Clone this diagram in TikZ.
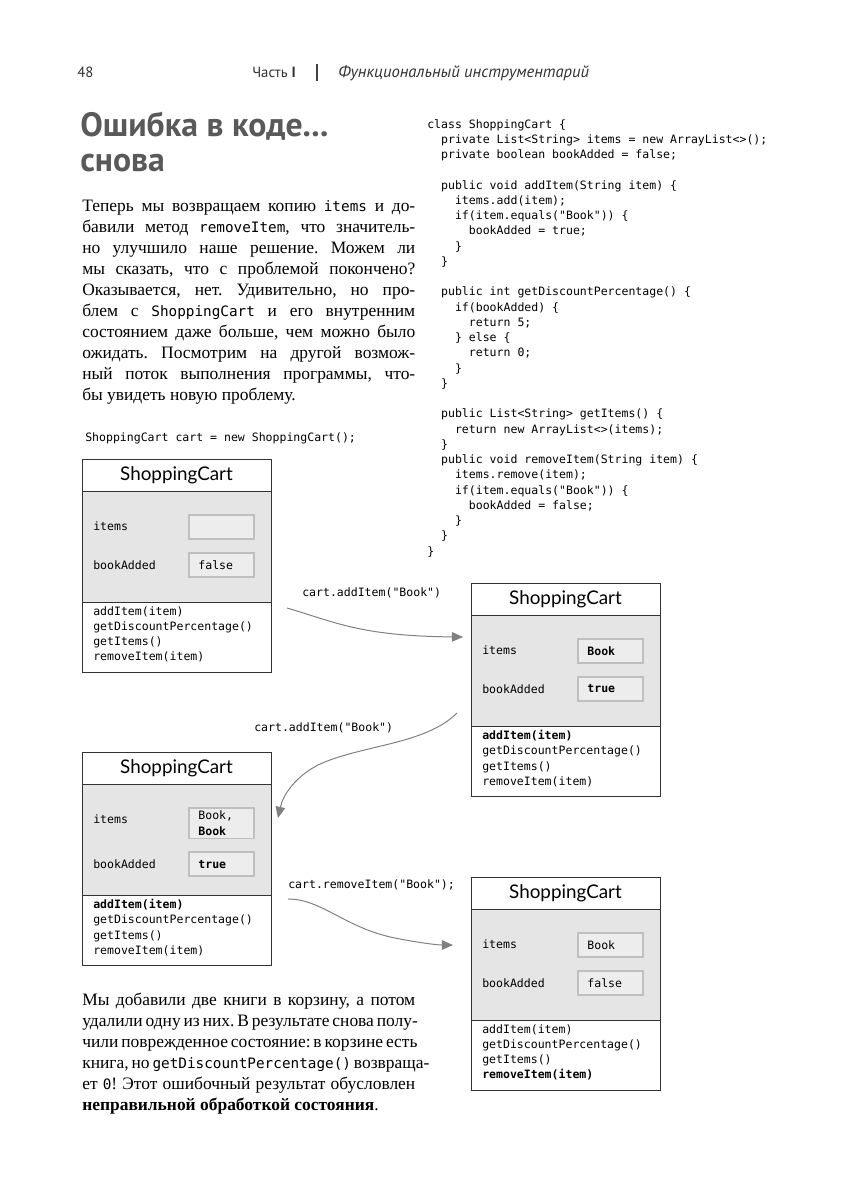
\documentclass[tikz,border=0pt]{standalone}
\usepackage{fontspec}
\setmainfont{Liberation Serif}
\newfontfamily\headfont{PT Sans}
\newfontfamily\codefont{DejaVu Sans Mono}
\newfontfamily\cartfont{Lato}
\usetikzlibrary{arrows.meta,positioning,calc}

\newcommand\codetext{\codefont\fontsize{8.2}{10.85}\selectfont}
\newcommand\cd[1]{{\codefont\fontsize{10.2}{14.95}\selectfont #1}}
\newcommand\ind[1]{\hspace*{#1\fontcharwd\font`\x}}
\newcommand\fullline[1]{\makebox[83.25mm][s]{#1}}
\frenchspacing

% one state of the ShoppingCart object: name, x, y, items, bookAdded, methods
\newcommand\cartstate[6]{%
  \node[cartframe] (#1) at (#2,#3) {};
  \fill[statefill] ([yshift=-8mm]#1.north west) rectangle ([yshift=17.5mm]#1.south east);
  \draw[cartline] ([yshift=-8mm]#1.north west) -- ([yshift=-8mm]#1.north east)
    ([yshift=17.5mm]#1.south west) -- ([yshift=17.5mm]#1.south east);
  \draw[cartline] (#1.north west) rectangle (#1.south east);
  \node[carttitle] (#1-title) at ([yshift=-4mm]#1.north) {ShoppingCart};
  \node[valbox] (#1-items) at ([xshift=26.5mm,yshift=-13.75mm]#1.north west) {#4};
  \node[valbox,below=3mm of #1-items] (#1-flag) {#5};
  \node[fieldlbl] (#1-itemslbl) at ($(#1.west |- #1-items.north)+(2.75mm,-3mm)$) {items};
  \node[fieldlbl] (#1-flaglbl) at ($(#1.west |- #1-flag.center)+(2.75mm,0)$) {bookAdded};
  \node[methodlist] (#1-methods) at ($(#1.south west)+(2.75mm,16.5mm)$) {#6};
}

\begin{document}
\begin{tikzpicture}[x=0.25mm,y=-0.25mm,
  headtext/.style={anchor=base west,inner sep=0pt,text=black!80,
    font=\headfont\fontsize{10.5}{12}\selectfont},
  heading/.style={anchor=north west,inner sep=0pt,align=left,text=black!65,
    font=\headfont\bfseries\fontsize{24}{24.9}\selectfont},
  bodytext/.style={anchor=north west,inner sep=0pt,align=left,
    font=\fontsize{12.4}{14.95}\selectfont},
  codeblock/.style={anchor=north west,inner sep=0pt,align=left,font=\codetext},
  callnote/.style={anchor=west,inner sep=0pt,font=\codetext},
  cartframe/.style={anchor=north west,minimum width=47.25mm,minimum height=53.25mm,
    inner sep=0pt,outer sep=0pt},
  cartline/.style={draw=black!80,line width=0.7pt},
  statefill/.style={fill=black!10},
  carttitle/.style={inner sep=0pt,font=\cartfont\fontsize{13.4}{15}\selectfont},
  valbox/.style={anchor=north west,draw=black!25,line width=1.3pt,fill=black!7,
    minimum width=16.25mm,minimum height=6mm,text width=11.5mm,align=left,
    inner xsep=2.375mm,inner ysep=0.8mm,font=\codetext},
  fieldlbl/.style={anchor=west,inner sep=0pt,font=\codetext},
  methodlist/.style={anchor=north west,inner sep=0pt,align=left,font=\codetext},
  flow/.style={draw=black!50,line width=0.7pt,-{Triangle[length=2.8mm,width=2.4mm]}}]
\useasboundingbox[fill=white] (0,0) rectangle (849,1200);

% running head
\node[headtext] (pageno) at (77,77) {48};
\node[headtext] (part) at (252,77) {Часть \textbf{I}};
\draw[black!75,line width=1.6pt] (317,64) -- (317,81);
\node[headtext,font=\headfont\itshape\fontsize{11.8}{12}\selectfont] (chapter) at (338,77)
  {Функциональный инструментарий};

% heading and text
\node[heading] (title) at (80,112) {Ошибка в коде...\\снова};
\node[bodytext] (intro) at (82,200) {%
  \fullline{Теперь мы возвращаем копию \cd{items} и до-}\\
  \fullline{бавили метод \cd{removeItem}, что значитель-}\\
  \fullline{но улучшило наше решение. Можем ли}\\
  \fullline{мы сказать, что с проблемой покончено?}\\
  \fullline{Оказывается, нет. Удивительно, но про-}\\
  \fullline{блем с \cd{ShoppingCart} и его внутренним}\\
  \fullline{состоянием даже больше, чем можно было}\\
  \fullline{ожидать. Посмотрим на другой возмож-}\\
  \fullline{ный поток выполнения программы, что-}\\
  бы увидеть новую проблему.};

% source of the class
\node[codeblock] (source) at (427,119) {%
  class ShoppingCart \{\\
  \ind{2}private List<String> items = new ArrayList<>();\\
  \ind{2}private boolean bookAdded = false;\\
  \mbox{}\\
  \ind{2}public void addItem(String item) \{\\
  \ind{4}items.add(item);\\
  \ind{4}if(item.equals("Book")) \{\\
  \ind{6}bookAdded = true;\\
  \ind{4}\}\\
  \ind{2}\}\\
  \mbox{}\\
  \ind{2}public int getDiscountPercentage() \{\\
  \ind{4}if(bookAdded) \{\\
  \ind{6}return 5;\\
  \ind{4}\} else \{\\
  \ind{6}return 0;\\
  \ind{4}\}\\
  \ind{2}\}\\
  \mbox{}\\
  \ind{2}public List<String> getItems() \{\\
  \ind{4}return new ArrayList<>(items);\\
  \ind{2}\}\\
  \ind{2}public void removeItem(String item) \{\\
  \ind{4}items.remove(item);\\
  \ind{4}if(item.equals("Book")) \{\\
  \ind{6}bookAdded = false;\\
  \ind{4}\}\\
  \ind{2}\}\\
  \}};

% the four states
\node[callnote] (init) at (85,438) {ShoppingCart cart = new ShoppingCart();};
\cartstate{cartA}{82}{459}{}{false}
  {addItem(item)\\getDiscountPercentage()\\getItems()\\removeItem(item)}
\cartstate{cartB}{471}{583}{\textbf{Book}}{\textbf{true}}
  {\textbf{addItem(item)}\\getDiscountPercentage()\\getItems()\\removeItem(item)}
\cartstate{cartC}{82}{752}{Book,\\\textbf{Book}}{\textbf{true}}
  {\textbf{addItem(item)}\\getDiscountPercentage()\\getItems()\\removeItem(item)}
\cartstate{cartD}{471}{877}{Book}{false}
  {addItem(item)\\getDiscountPercentage()\\getItems()\\\textbf{removeItem(item)}}

% calls between states
\node[callnote] (call1) at (302,593) {cart.addItem("Book")};
\coordinate (from1) at (287,608);
\coordinate (to1) at (463,637);
\draw[flow] (from1) .. controls (335,622) and (360,636) .. (to1);
\node[callnote] (call2) at (254,728) {cart.addItem("Book")};
\coordinate (from2) at (457,713);
\coordinate (to2) at (278,818);
\draw[flow] (from2) .. controls (425,745) and (360,745) .. (318,765)
  .. controls (295,777) and (283,795) .. (to2);
\node[callnote] (call3) at (288,885) {cart.removeItem("Book");};
\coordinate (from3) at (288,899);
\coordinate (to3) at (453,945);
\draw[flow] (from3) .. controls (322,899) and (345,928) .. (395,938)
  .. controls (420,943) and (438,945) .. (to3);

\node[bodytext] (outro) at (82,993) {%
  \fullline{Мы добавили две книги в корзину, а потом}\\
  \fullline{удалили одну из них. В результате снова полу-}\\
  \fullline{чили поврежденное состояние: в корзине есть}\\
  \fullline{книга, но \cd{getDiscountPercentage()} возвраща-}\\
  \fullline{ет \cd{0}! Этот ошибочный результат обусловлен}\\
  \textbf{неправильной обработкой состояния}.};
\end{tikzpicture}
\end{document}
